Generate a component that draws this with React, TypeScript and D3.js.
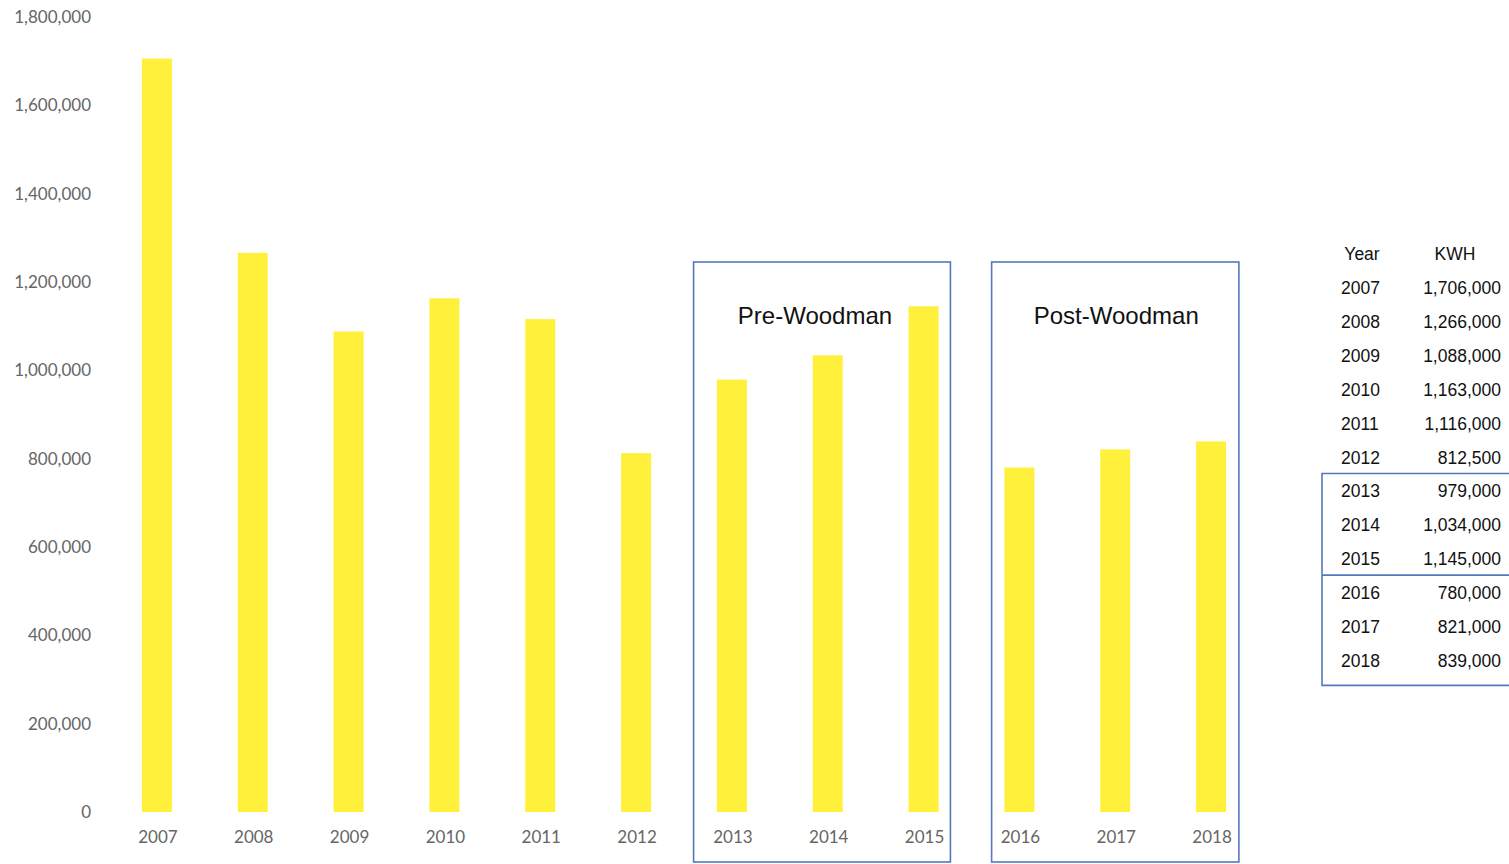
import React from "react";
import * as d3 from "d3";

const years = ["2007","2008","2009","2010","2011","2012","2013","2014","2015","2016","2017","2018"];
const kwh = [1706000,1266000,1088000,1163000,1116000,812500,979000,1034000,1145000,780000,821000,839000];
const yTicks = [0,200000,400000,600000,800000,1000000,1200000,1400000,1600000,1800000];
const groups = [
  { label: "Pre-Woodman", from: "2013", to: "2015", padL: 0.4, padR: 0.28, titleDx: -7 },
  { label: "Post-Woodman", from: "2016", to: "2018", padL: 0.29, padR: 0.29, titleDx: 1 },
];
const tableHeader = ["Year", "KWH"];

const W = 1509, H = 864;

export default function App() {
  const x = d3.scaleBand<string>().domain(years).range([109, 1259]).paddingInner(0.687).paddingOuter(0.3435);
  const y = d3.scaleLinear().domain([0, 1800000]).range([812, 17]);
  const fmt = d3.format(",");
  const axisFont = "Lato, 'Open Sans', sans-serif";
  const tFont = "'Liberation Sans', Arial, sans-serif";
  const blue = "#5578bd";
  const rowY = d3.scaleLinear().domain([0, 1]).range([287, 320.9]);
  const tableLeft = 1322;
  const cx = (k: string) => (x(k) as number) + x.bandwidth() / 2;

  return (
    <svg width={W} height={H} style={{ position: "absolute", left: 0, top: 0, background: "#fff" }}>
      <rect width={W} height={H} fill="#fff" />
      {yTicks.map((t) => (
        <text key={t} x={91} y={y(t)} dy="0.35em" textAnchor="end" fontFamily={axisFont} fontSize={17} fill="#666">
          {fmt(t)}
        </text>
      ))}
      {years.map((yr, i) => (
        <rect key={yr} x={x(yr)} y={y(kwh[i])} width={x.bandwidth()} height={y(0) - y(kwh[i])} fill="#fff03c" />
      ))}
      {years.map((yr) => (
        <text key={yr} x={cx(yr) + 1} y={843} textAnchor="middle" fontFamily={axisFont} fontSize={17} fill="#666">
          {yr}
        </text>
      ))}
      {groups.map((g) => {
        const left = cx(g.from) - g.padL * x.step();
        const right = cx(g.to) + g.padR * x.step();
        return (
          <g key={g.label}>
            <rect x={left} y={262} width={right - left} height={600} fill="none" stroke={blue} strokeWidth={1.6} />
            <text x={(left + right) / 2 + g.titleDx} y={324} textAnchor="middle" fontFamily={tFont} fontSize={24} fill="#111">
              {g.label}
            </text>
          </g>
        );
      })}
      <text x={1362} y={260} textAnchor="middle" fontFamily={tFont} fontSize={17.5} fill="#111">{tableHeader[0]}</text>
      <text x={1455} y={260} textAnchor="middle" fontFamily={tFont} fontSize={17.5} fill="#111">{tableHeader[1]}</text>
      {years.map((yr, i) => (
        <g key={yr}>
          <text x={1341} y={rowY(i) + 7} fontFamily={tFont} fontSize={17.5} fill="#111">{yr}</text>
          <text x={1501} y={rowY(i) + 7} textAnchor="end" fontFamily={tFont} fontSize={17.5} fill="#111">{fmt(kwh[i])}</text>
        </g>
      ))}
      <path d={`M${W + 2},${rowY(5.5)} H${tableLeft} V${rowY(11.75)} H${W + 2}`} fill="none" stroke={blue} strokeWidth={1.6} />
      <line x1={tableLeft} x2={W + 2} y1={rowY(8.5)} y2={rowY(8.5)} stroke={blue} strokeWidth={1.6} />
    </svg>
  );
}
